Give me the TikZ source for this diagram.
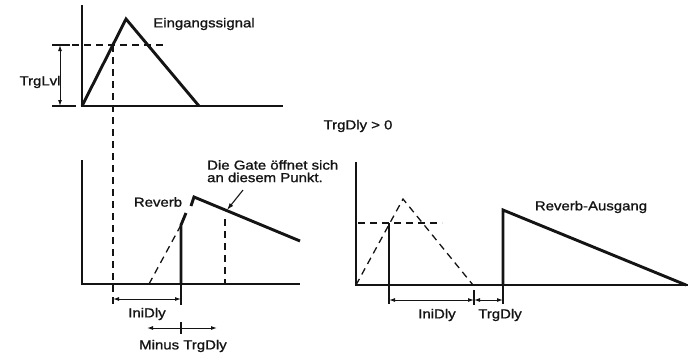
\documentclass[tikz,border=0pt]{standalone}
\usepackage{fontspec}
\setmainfont{Liberation Sans}[FakeStretch=1.15,FakeBold=1.2]
\usepackage{tikz}
\usetikzlibrary{arrows.meta}
\definecolor{inkblack}{RGB}{20,20,20}
\tikzset{
  axisline/.style={draw=inkblack,line width=1.6pt},
  signal/.style={draw=inkblack,line width=2.9pt,line join=miter},
  guide/.style={draw=inkblack,line width=1.3pt,dash pattern=on 7pt off 5pt},
  dimline/.style={draw=inkblack,line width=1pt,
    {Latex[length=6pt,width=4pt]}-{Latex[length=6pt,width=4pt]}},
  tickline/.style={draw=inkblack,line width=1.1pt},
  pointer/.style={draw=inkblack,line width=1.1pt,-{Latex[length=7pt,width=4.5pt]}},
  plotlabel/.style={font=\fontsize{13pt}{12.5pt}\selectfont,inner sep=0pt,
    text=inkblack,align=left}
}

\begin{document}
\begin{tikzpicture}[x=1pt,y=-1pt]
  \useasboundingbox (0,0) rectangle (692,356);
  % Eingangssignal
  \coordinate (inTop) at (82,5);   \coordinate (inO) at (82,106);
  \coordinate (inEnd) at (283,106); \coordinate (inPeak) at (126,19);
  \coordinate (inFall) at (199,106); \coordinate (inTrg) at (113,45);
  \coordinate (lvlTop) at (60,45);  \coordinate (lvlBot) at (60,106);
  \draw[axisline] (inTop) -- (inO) -- (inEnd);
  \draw[signal] (inO) -- (inPeak) -- (inFall);
  \draw[tickline] (52,45) -- (70,45); \draw[tickline] (52,106) -- (76,106);
  \draw[guide] (72,45) -- (166,45);
  \draw[dimline] (lvlTop) -- (lvlBot);
  \node[plotlabel] (eingang) at (204,24) {Eingangssignal};
  \node[plotlabel] (trglvl) at (40,82) {TrgLvl};
  \node[plotlabel] (trgpos) at (358,126) {TrgDly > 0};
  % Reverb, links
  \coordinate (rvTop) at (82,160);  \coordinate (rvO) at (82,284);
  \coordinate (rvEnd) at (300,284); \coordinate (rvFoot) at (149,284);
  \coordinate (rvGate) at (181,284); \coordinate (rvCut) at (181,225);
  \coordinate (rvRise) at (186,213); \coordinate (rvHook) at (191,206);
  \coordinate (rvPeak) at (194,197); \coordinate (rvTail) at (300,241);
  \coordinate (rvOpen) at (227,210);
  \draw[axisline] (rvTop) -- (rvO) -- (rvEnd);
  \draw[guide] (inTrg) -- (113,305);
  \draw[guide] (rvFoot) -- (rvCut);
  \draw[signal] (rvGate) -- (rvCut) -- (rvRise);
  \draw[signal] (rvHook) -- (rvPeak) -- (rvTail);
  \draw[guide] (225,219) -- (225,284);
  \node[plotlabel] (reverb) at (158,202) {Reverb};
  \node[plotlabel,anchor=north west] (gate) at (207,160)
    {Die Gate öffnet sich\\an diesem Punkt.};
  \draw[pointer] (243,190) -- (rvOpen);
  \draw[tickline] (rvGate) -- (181,305);
  \draw[dimline] (113,299) -- (181,299);
  \node[plotlabel] (inidlyA) at (147,314) {IniDly};
  \draw[tickline] (181,322) -- (181,334);
  \draw[dimline] (147,328) -- (217,328);
  \node[plotlabel] (minus) at (183,346) {Minus TrgDly};
  % Reverb-Ausgang
  \coordinate (outTop) at (356,162); \coordinate (outO) at (356,285);
  \coordinate (outEnd) at (688,285); \coordinate (outPeak) at (403,199);
  \coordinate (outFall) at (473,285); \coordinate (outTrg) at (389,223);
  \coordinate (outGate) at (503,285); \coordinate (outJump) at (503,210);
  \coordinate (outTail) at (686,285);
  \draw[axisline] (outTop) -- (outO) -- (outEnd);
  \draw[guide] (outO) -- (outPeak) -- (outFall);
  \draw[guide] (358,223) -- (442,223);
  \draw[tickline] (outTrg) -- (389,304);
  \draw[tickline] (474,290) -- (474,305);
  \draw[tickline] (outGate) -- (503,304);
  \draw[signal] (outGate) -- (outJump) -- (outTail);
  \draw[dimline] (389,300) -- (474,300);
  \draw[dimline] (474,300) -- (503,300);
  \node[plotlabel] (inidlyB) at (437,315) {IniDly};
  \node[plotlabel] (trgdly) at (500,315) {TrgDly};
  \node[plotlabel] (ausgang) at (591,207) {Reverb-Ausgang};
\end{tikzpicture}
\end{document}
